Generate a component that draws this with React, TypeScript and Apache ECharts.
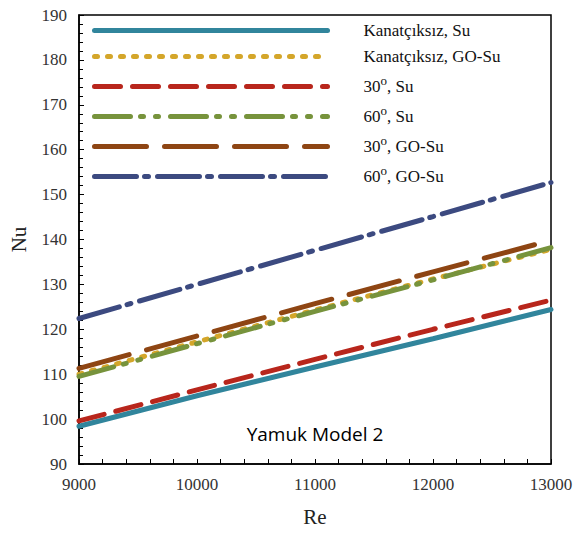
import React, { useEffect, useRef } from "react";
import * as echarts from "echarts";

const reValues = [9000, 10000, 11000, 12000, 13000];
const seriesNames = [
  "Kanatçıksız, Su",
  "Kanatçıksız, GO-Su",
  "30°, Su",
  "60°, Su",
  "30°, GO-Su",
  "60°, GO-Su",
];
const kanatSu = [98.4, 105.2, 111.6, 117.9, 124.4];
const kanatGoSu = [110.0, 117.2, 124.3, 131.2, 137.8];
const deg30Su = [99.6, 106.5, 113.3, 120.0, 126.5];
const deg60Su = [109.5, 116.8, 124.0, 131.0, 138.2];
const deg30GoSu = [111.3, 118.5, 125.7, 132.8, 139.8];
const deg60GoSu = [122.4, 130.0, 137.6, 145.1, 152.7];
const allValues = [kanatSu, kanatGoSu, deg30Su, deg60Su, deg30GoSu, deg60GoSu];

const colors = ["#31859C", "#D4A62A", "#B8261C", "#77933C", "#8E4513", "#3C4A80"];
const dashes: (string | number[])[] = [
  "solid",
  [3, 10],
  [26, 12],
  [36, 10, 3, 12, 3, 12],
  [52, 18],
  [42, 8, 4, 9],
];

export default function App() {
  const ref = useRef<HTMLDivElement>(null);
  useEffect(() => {
    document.body.style.margin = "0";
    if (!ref.current) return;
    const chart = echarts.init(ref.current, undefined, { renderer: "svg" });
    const serif = "Liberation Serif";
    chart.setOption({
      animation: false,
      backgroundColor: "#ffffff",
      grid: {
        left: 79,
        right: 29,
        top: 15,
        bottom: 69,
        show: true,
        borderColor: "#000",
        borderWidth: 1.5,
        backgroundColor: "transparent",
      },
      title: {
        text: "Yamuk Model 2",
        left: 310,
        top: 419,
        textAlign: "center",
        textStyle: { fontFamily: "Open Sans", fontSize: 19, fontWeight: "normal", color: "#000" },
      },
      legend: {
        orient: "vertical",
        left: 92,
        top: 22,
        padding: 0,
        itemWidth: 233,
        itemHeight: 18,
        itemGap: 9,
        data: seriesNames,
        itemStyle: { opacity: 0 },
        lineStyle: { width: 5 },
        formatter: (name: string) => name.replace("°", "{sup|o}"),
        textStyle: {
          fontFamily: serif,
          fontSize: 17,
          color: "#111",
          padding: [0, 0, 0, 31],
          rich: {
            sup: { fontSize: 13, fontFamily: serif, color: "#111", padding: [0, 0, 12, 0] },
          },
        },
      },
      xAxis: {
        type: "value",
        min: 9000,
        max: 13000,
        interval: 1000,
        name: "Re",
        nameLocation: "middle",
        nameGap: 42,
        nameTextStyle: { fontFamily: serif, fontSize: 21, color: "#222" },
        axisLine: { lineStyle: { color: "#000", width: 1.5 } },
        axisTick: { inside: true, length: 5, lineStyle: { color: "#000" } },
        minorTick: { show: true, splitNumber: 5, length: 5, lineStyle: { color: "#000" } },
        axisLabel: {
          fontFamily: serif,
          fontSize: 17,
          color: "#333",
          margin: 12,
          formatter: (v: number) => String(v),
        },
        splitLine: { show: false },
      },
      yAxis: {
        type: "value",
        min: 90,
        max: 190,
        interval: 10,
        name: "Nu",
        nameLocation: "middle",
        nameGap: 50,
        nameTextStyle: { fontFamily: serif, fontSize: 21, color: "#222" },
        axisLine: { show: true, lineStyle: { color: "#000", width: 1.5 } },
        axisTick: { show: true, inside: true, length: 5, lineStyle: { color: "#000" } },
        minorTick: { show: true, splitNumber: 5, length: 4, lineStyle: { color: "#000" } },
        axisLabel: { fontFamily: serif, fontSize: 17, color: "#333", margin: 12 },
        splitLine: { show: false },
      },
      series: seriesNames.map((name, i) => ({
        name,
        type: "line",
        symbol: "none",
        data: reValues.map((x, j) => [x, allValues[i][j]]),
        itemStyle: { color: colors[i] },
        lineStyle: { color: colors[i], width: 5, type: dashes[i], cap: "round" },
        z: i === 0 ? 2 : 3,
      })),
    });
    return () => chart.dispose();
  }, []);
  return <div ref={ref} style={{ width: 580, height: 533 }} />;
}
